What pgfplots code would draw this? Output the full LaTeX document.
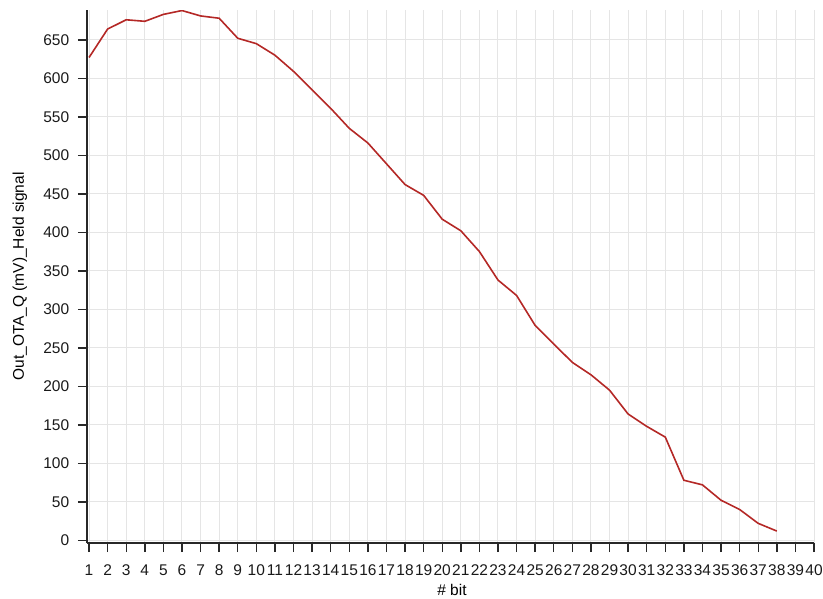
\documentclass[border=0pt]{standalone}
\usepackage{fontspec}
\setmainfont{Liberation Sans}
\usepackage{pgfplots}
\pgfplotsset{compat=1.18}
\definecolor{linered}{RGB}{180,40,38}
\definecolor{axisgray}{RGB}{40,40,40}
\begin{document}
\fontsize{15.5}{18}\selectfont
\begin{tikzpicture}[x=1pt,y=1pt]
\begin{axis}[
  scale only axis, width=727pt, height=533pt,
  xmin=0.89, xmax=40, ymin=-3.5, ymax=688.7,
  axis x line*=bottom, axis y line*=left,
  axis line style={axisgray, line width=1.8pt, -},
  tick align=outside, major tick length=9pt,
  tick style={axisgray, line width=1.4pt},
  xtick={1,...,40}, ytick={0,50,...,650},
  grid=major, major grid style={black!10, line width=1pt},
  ticklabel style={font=\fontsize{15.5}{18}\selectfont, text=black!90},
  xticklabel style={yshift=-7pt},
  yticklabel style={xshift=-3.5pt},
  /pgf/number format/assume math mode=true,
  xlabel={\# bit}, ylabel={Out\_OTA\_Q (mV)\_Held signal},
  label style={font=\fontsize{15.5}{18}\selectfont, text=black!90},
  every axis y label/.style={at={(axis description cs:-0.0922,0.5)}, anchor=center, rotate=90},
  every axis x label/.style={at={(axis description cs:0.502,-0.0882)}, anchor=center},
]
\addplot[linered, line width=1.6pt, mark=none] coordinates {
(1,627) (2,664) (3,676) (4,674) (5,683) (6,688) (7,681) (8,678) (9,652) (10,645)
(11,630) (12,609) (13,585) (14,561) (15,535) (16,516) (17,489) (18,462) (19,448) (20,417)
(21,402) (22,375) (23,338) (24,318) (25,279) (26,255) (27,231) (28,215) (29,195) (30,164)
(31,148) (32,134) (33,78) (34,72) (35,52) (36,40) (37,22) (38,12)
};
\end{axis}
\pgfresetboundingbox
\useasboundingbox (-87,-55) rectangle (736,543);
\end{tikzpicture}
\end{document}
